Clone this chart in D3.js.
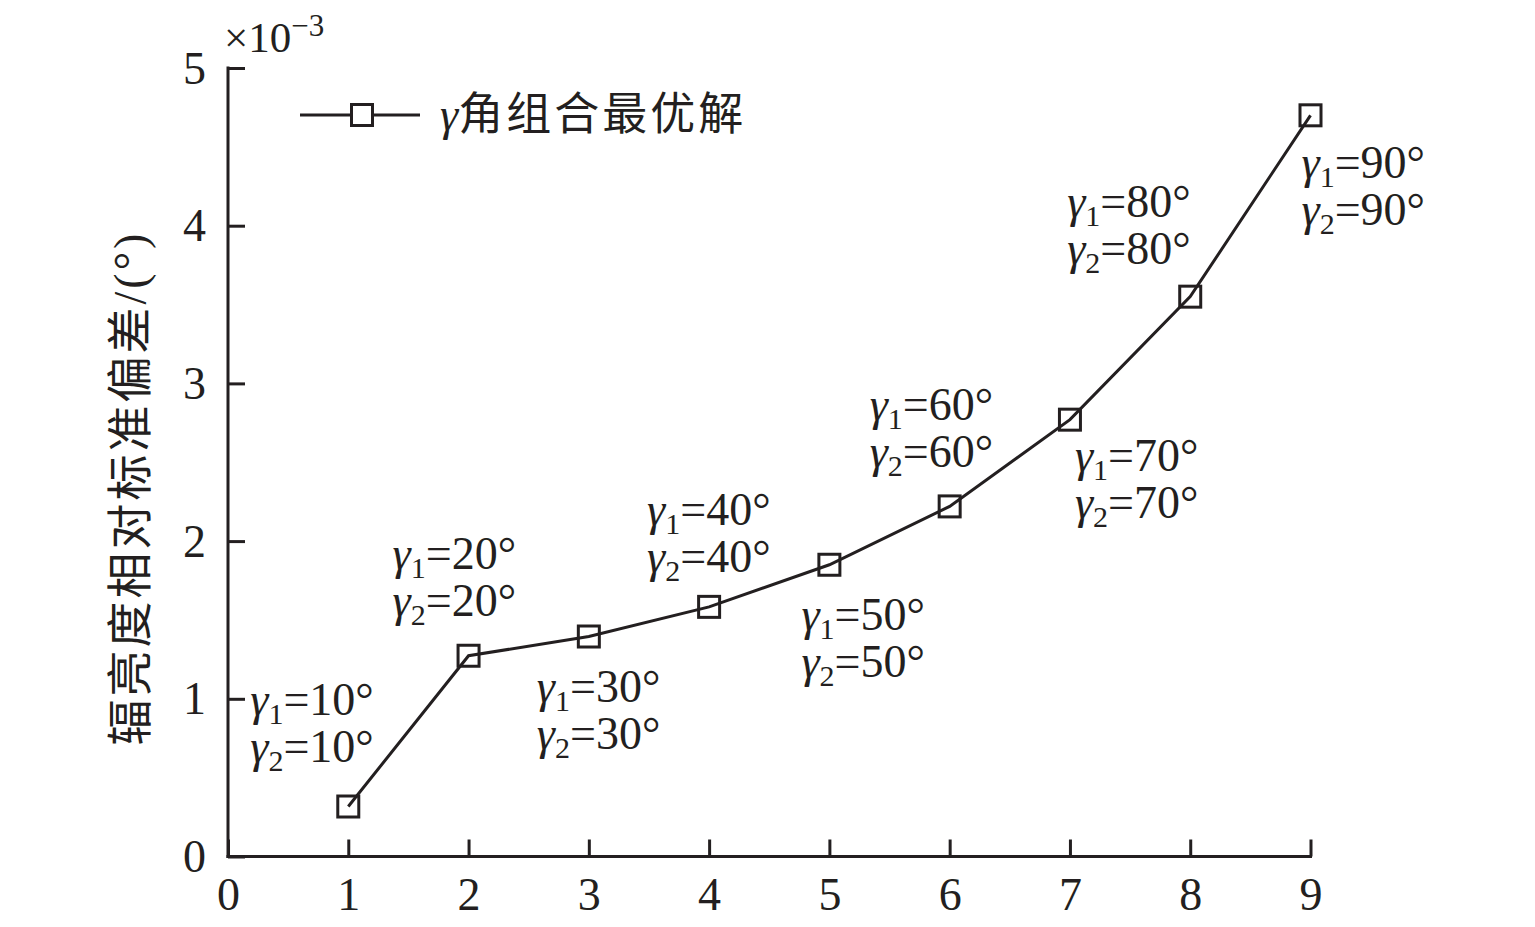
<!DOCTYPE html>
<html><head><meta charset="utf-8">
<script src="https://cdn.jsdelivr.net/npm/d3@7"></script>
<style>body{margin:0;background:#fff}svg{display:block}</style>
</head><body>
<script>
const xValues = [1,2,3,4,5,6,7,8,9];
const yValues = [0.317,1.273,1.395,1.583,1.85,2.22,2.77,3.55,4.70];
const angleLabels = ["10","20","30","40","50","60","70","80","90"];
const xTicks = [0,1,2,3,4,5,6,7,8,9];
const yTicks = [0,1,2,3,4,5];
const legendLabel = "角组合最优解";
const yTitle = "辐亮度相对标准偏差/(°)";
// label offsets relative to point (dx of left edge, dy of first baseline)
const labelOffsets = [[-98,-92],[-76,-87],[-52,65],[-62,-82],[-28,65],[-80,-86],[5,51],[-123,-80],[-9,63]];

const W=1535,H=927;
const svg=d3.select("body").append("svg").attr("width",W).attr("height",H);
const x=d3.scaleLinear().domain([0,9]).range([228,1310.5]);
const y=d3.scaleLinear().domain([0,5]).range([856.5,68]);
const font="'Liberation Serif','Times New Roman',serif";
const cjk="'Liberation Serif','Noto Sans CJK SC',serif";
const ink="#231f20";

const gx=svg.append("g").attr("transform","translate(0,856.5)")
  .call(d3.axisBottom(x).tickValues(xTicks).tickSizeInner(-17).tickSizeOuter(0).tickFormat(d3.format("d")));
const gy=svg.append("g").attr("transform","translate(228,0)")
  .call(d3.axisLeft(y).tickValues(yTicks).tickSizeInner(-17).tickSizeOuter(0).tickFormat(d3.format("d")));
[gx,gy].forEach(g=>{
  g.select(".domain").attr("stroke",ink).attr("stroke-width",3);
  g.selectAll(".tick line").attr("stroke",ink).attr("stroke-width",3);
  g.selectAll(".tick text").attr("font-family",font).attr("font-size",46).attr("fill",ink);
});
gx.selectAll(".tick text").attr("dy",null).attr("y",53);
gy.selectAll(".tick text").attr("x",-22).attr("dy","0.33em");
gy.select(".domain").attr("d",`M0,${y(5)-1.5}V${y(0)+1.5}`);
gx.select(".domain").attr("d",`M${x(0)-1.5},0H${x(9)+1.5}`);

// exponent
const ex=svg.append("text").attr("x",224).attr("y",52).attr("font-family",font).attr("font-size",43).attr("fill",ink);
ex.append("tspan").text("×10");
ex.append("tspan").attr("dy",-16).attr("font-size",31).text("−3");

// y title
svg.append("text").attr("transform",`translate(146,488) rotate(-90)`)
  .attr("text-anchor","middle").attr("font-family",cjk).attr("font-size",46).attr("letter-spacing",3).attr("fill",ink).text(yTitle);

const data=xValues.map((d,i)=>({x:d,y:yValues[i],lab:angleLabels[i],off:labelOffsets[i]}));
svg.append("path").datum(data).attr("fill","none").attr("stroke",ink).attr("stroke-width",3)
  .attr("d",d3.line().x(d=>x(d.x)).y(d=>y(d.y)));
const sq=21;
svg.selectAll(".m").data(data).enter().append("rect")
  .attr("x",d=>x(d.x)-sq/2).attr("y",d=>y(d.y)-sq/2).attr("width",sq).attr("height",sq)
  .attr("fill","none").attr("stroke",ink).attr("stroke-width",3);

// annotations
data.forEach(d=>{
  const bx=x(d.x)+d.off[0], by=y(d.y)+d.off[1];
  [1,2].forEach((k,j)=>{
    const t=svg.append("text").attr("x",bx).attr("y",by+j*47).attr("font-family",font).attr("font-size",46).attr("fill",ink);
    t.append("tspan").attr("font-style","italic").text("γ");
    t.append("tspan").attr("font-size",30).attr("dy",9).text(k);
    t.append("tspan").attr("dy",-9).text("="+d.lab+"°");
  });
});

// legend
svg.append("line").attr("x1",300).attr("x2",420).attr("y1",115).attr("y2",115).attr("stroke",ink).attr("stroke-width",3);
svg.append("rect").attr("x",362-sq/2).attr("y",115-sq/2).attr("width",sq).attr("height",sq).attr("fill","#fff").attr("stroke",ink).attr("stroke-width",3);
const lt=svg.append("text").attr("x",440).attr("y",130).attr("font-size",45).attr("fill",ink);
lt.append("tspan").attr("font-family",font).attr("font-style","italic").attr("font-size",46).text("γ");
lt.append("tspan").attr("font-family",cjk).attr("letter-spacing",3).text(legendLabel);
</script>
</body></html>
